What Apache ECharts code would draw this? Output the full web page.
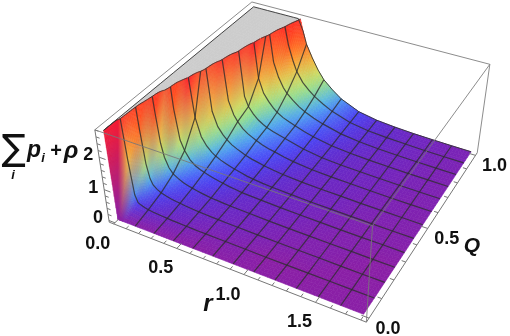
<!DOCTYPE html>
<html><head><meta charset="utf-8">
<style>html,body{margin:0;padding:0;background:#fff}#c{width:510px;height:336px}</style>
<script src="https://cdn.jsdelivr.net/npm/echarts@6/dist/echarts.min.js"></script>
</head><body><div id="c"></div>
<script>
// ---- data ----
const rValues=[0,.01,.03,.05,.07,.09,.12,.15,.19,.23,.27,.3,.34,.38,.42,.45,.5,.55,.6,.675,.75,.9,1.05,1.2,1.35,1.5,1.65,1.8];
const qValues=[0,.0833,.1667,.25,.3333,.4167,.5,.5833,.6667,.75,.8333,.9167,1];
const zQ00=[3,0,0,0,0,0,0,0,0,0,0,0,0,0,0,0,0,0,0,0,0,0,0,0,0,0,0,0];
const zQ01=[3,3,1.5,.45,.22,.18,.14,.11,.09,.075,.065,.055,.045,.04,.035,.03,.025,.02,.02,.015,.015,.01,0,0,0,0,0,0];
const zQ02=[3.5,3.5,2.1,1.05,.6,.42,.32,.25,.2,.165,.14,.125,.105,.09,.08,.07,.06,.052,.047,.038,.031,.022,.015,.01,.01,0,0,0];
const zQ03=[3.5,3.5,3.5,2.3,1.35,.93,.63,.47,.37,.29,.245,.215,.18,.15,.125,.11,.095,.08,.07,.06,.05,.032,.022,.015,.01,.01,0,0];
const zQ04=[3.5,3.5,3.5,3.5,3.5,2.1,1.15,.85,.6,.46,.385,.34,.29,.25,.215,.19,.15,.125,.095,.08,.07,.048,.033,.022,.015,.01,.01,.005];
const zQ05=[3.5,3.5,3.5,3.5,3.5,3.5,2.75,1.55,.98,.73,.57,.49,.41,.35,.3,.265,.22,.17,.14,.105,.085,.058,.04,.03,.02,.015,.01,.01];
const zQ06=[3.5,3.5,3.5,3.5,3.5,3.5,3.5,3.3,1.45,1,.78,.66,.54,.46,.39,.34,.28,.24,.195,.15,.11,.07,.05,.04,.025,.02,.015,.01];
const zQ07=[3.5,3.5,3.5,3.5,3.5,3.5,3.5,3.5,3,1.5,1.08,.9,.72,.6,.52,.46,.38,.32,.28,.21,.155,.09,.06,.045,.03,.02,.015,.015];
const zQ08=[3.5,3.5,3.5,3.5,3.5,3.5,3.5,3.5,3.5,3,1.35,1.05,.85,.7,.6,.54,.47,.41,.36,.28,.2,.11,.07,.05,.035,.025,.02,.015];
const zQ09=[3.5,3.5,3.5,3.5,3.5,3.5,3.5,3.5,3.5,3.5,2.75,1.65,1.2,.98,.8,.7,.58,.5,.43,.33,.25,.14,.085,.055,.04,.027,.02,.015];
const zQ10=[3.5,3.5,3.5,3.5,3.5,3.5,3.5,3.5,3.5,3.5,3.5,3.1,1.9,1.45,1.15,1,.82,.67,.56,.43,.33,.18,.105,.065,.045,.03,.022,.018];
const zQ11=[3.5,3.5,3.5,3.5,3.5,3.5,3.5,3.5,3.5,3.5,3.5,3.5,3,2.2,1.7,1.4,1.1,.9,.74,.56,.41,.21,.12,.08,.055,.035,.025,.02];
const zQ12=[3.5,3.5,3.5,3.5,3.5,3.5,3.5,3.5,3.5,3.5,3.5,3.5,3.5,3.05,2.4,2,1.6,1.25,.98,.72,.5,.24,.13,.08,.05,.035,.025,.02];
const zColumns=[zQ00,zQ01,zQ02,zQ03,zQ04,zQ05,zQ06,zQ07,zQ08,zQ09,zQ10,zQ11,zQ12];
const rMesh=[.15,.3,.45,.6,.75,.9,1.05,1.2,1.35,1.5,1.65];
const qMesh=[.0833,.1667,.25,.3333,.4167,.5,.5833,.6667,.75,.8333,.9167];
const rTickLabels=["0.0","0.5","1.0","1.5"];
const qTickLabels=["0.0","0.5","1.0"];
const zTickLabels=["0","1","2"];
const rMinor=[0,.1,.2,.3,.4,.5,.6,.7,.8,.9,1,1.1,1.2,1.3,1.4,1.5,1.6,1.7,1.8];
const qMinor=[0,.1,.2,.3,.4,.5,.6,.7,.8,.9,1];
const zMinor=[0,.2,.4,.6,.8,1,1.2,1.4,1.6,1.8,2,2.2,2.4,2.6,2.8];
// ---- colour scale: height -> colour ----
const colorHeights=[0,.03,.1,.25,.55,.85,1.2,1.7,2.2,2.75];
const colorRGB=[[138,31,166],[116,36,188],[95,45,208],[74,72,248],[80,176,240],[144,224,144],[216,224,96],[255,160,48],[255,80,32],[255,28,40]];
// ---- view box ----
const plotRange={r:[-.036,1.836],q:[-.02,1.02],z:[-.055,2.805]};
const clipHeight=2.75;
const boxCorners=[[0,0,0,109,222],[1,0,0,367,322],[1,1,0,477,153],[0,0,1,95,130],[1,0,1,372,226],[1,1,1,490,64],[0,1,1,252,2]];

function solveCamera(){
  const A=[],b=[];
  boxCorners.forEach(([u,v,w,x,y])=>{
    A.push([u,v,w,1,0,0,0,0,-x*u,-x*v,-x*w]);b.push(x);
    A.push([0,0,0,0,u,v,w,1,-y*u,-y*v,-y*w]);b.push(y);
  });
  const n=11,M=[];
  for(let i=0;i<n;i++){M.push([]);for(let j=0;j<=n;j++){let s=0;
    for(let k=0;k<A.length;k++)s+=A[k][i]*(j<n?A[k][j]:b[k]);M[i].push(s);}}
  for(let c=0;c<n;c++){let p=c;for(let i=c+1;i<n;i++)if(Math.abs(M[i][c])>Math.abs(M[p][c]))p=i;
    [M[c],M[p]]=[M[p],M[c]];
    for(let i=0;i<n;i++){if(i===c)continue;const f=M[i][c]/M[c][c];for(let j=c;j<=n;j++)M[i][j]-=f*M[c][j];}}
  return M.map((row,i)=>row[n]/row[i]);
}
const cam=solveCamera();
function project(r,q,z){
  const u=(r-plotRange.r[0])/(plotRange.r[1]-plotRange.r[0]),
        v=(q-plotRange.q[0])/(plotRange.q[1]-plotRange.q[0]),
        w=(z-plotRange.z[0])/(plotRange.z[1]-plotRange.z[0]);
  const d=cam[8]*u+cam[9]*v+cam[10]*w+1;
  return [(cam[0]*u+cam[1]*v+cam[2]*w+cam[3])/d,(cam[4]*u+cam[5]*v+cam[6]*w+cam[7])/d];
}
function colorAt(z){
  z=Math.min(z,clipHeight);
  for(let i=1;i<colorHeights.length;i++){
    if(z<=colorHeights[i]){const t=(z-colorHeights[i-1])/(colorHeights[i]-colorHeights[i-1]);
      return colorRGB[i-1].map((c,k)=>c+(colorRGB[i][k]-c)*t);}
  }
  return colorRGB[colorRGB.length-1];
}
function clipPoly(P,below){
  const out=[];
  for(let i=0;i<P.length;i++){
    const a=P[i],b=P[(i+1)%P.length];
    const ia=below?a[2]<=clipHeight:a[2]>=clipHeight, ib=below?b[2]<=clipHeight:b[2]>=clipHeight;
    if(ia)out.push(a);
    if(ia!==ib){const t=(clipHeight-a[2])/(b[2]-a[2]);out.push([a[0]+(b[0]-a[0])*t,a[1]+(b[1]-a[1])*t,clipHeight]);}
  }
  return out;
}
const polys=[],strokes=[];
const meshColor='rgba(45,45,45,.8)';
const lerp=(a,b,t)=>a+(b-a)*t;
for(let i=0;i<rValues.length-1;i++){
  for(let j=qValues.length-2;j>=0;j--){
    const r0=rValues[i],r1=rValues[i+1],q0=qValues[j],q1=qValues[j+1];
    const z00=zColumns[j][i],z10=zColumns[j][i+1],z01=zColumns[j+1][i],z11=zColumns[j+1][i+1];
    const c00=colorAt(z00),c10=colorAt(z10),c01=colorAt(z01),c11=colorAt(z11);
    const cp=[[r0,q0,z00],[r1,q0,z10],[r1,q1,z11],[r0,q1,z01]].map(p=>project(p[0],p[1],Math.min(p[2],clipHeight)));
    const sideR=Math.max(Math.hypot(cp[1][0]-cp[0][0],cp[1][1]-cp[0][1]),Math.hypot(cp[2][0]-cp[3][0],cp[2][1]-cp[3][1]));
    const sideQ=Math.max(Math.hypot(cp[3][0]-cp[0][0],cp[3][1]-cp[0][1]),Math.hypot(cp[2][0]-cp[1][0],cp[2][1]-cp[1][1]));
    const nx=Math.max(1,Math.min(16,Math.ceil(sideR/4))),ny=Math.max(1,Math.min(16,Math.ceil(sideQ/4)));
    for(let s=0;s<nx;s++){
      for(let t=ny-1;t>=0;t--){
        const a0=s/nx,a1=(s+1)/nx,b0=t/ny,b1=(t+1)/ny;
        const Z=(a,b)=>lerp(lerp(z00,z10,a),lerp(z01,z11,a),b);
        const P=[[a0,b0],[a1,b0],[a1,b1],[a0,b1]].map(([a,b])=>[lerp(r0,r1,a),lerp(q0,q1,b),Z(a,b)]);
        const am=(a0+a1)/2,bm=(b0+b1)/2;
        const col=[0,1,2].map(k=>Math.round(lerp(lerp(c00[k],c10[k],am),lerp(c01[k],c11[k],am),bm)));
        const fill=`rgb(${col})`;
        const up=clipPoly(P,false),dn=clipPoly(P,true);
        if(up.length>2)polys.push({pts:up.map(p=>project(p[0],p[1],clipHeight)),fill:'#cccccc'});
        if(dn.length>2)polys.push({pts:dn.map(p=>project(p[0],p[1],p[2])),fill});
        if(up.length>2&&dn.length>2){
          const cross=dn.filter(p=>p[2]===clipHeight);
          if(cross.length>=2)strokes.push({pts:cross.slice(0,2).map(p=>project(p[0],p[1],clipHeight)),color:'#333',width:.9});
        }
      }
    }
  }
}
function interp(xs,x){let i=0;while(i<xs.length-2&&xs[i+1]<x)i++;return [i,(x-xs[i])/(xs[i+1]-xs[i])];}
function pushClipped(seq){
  let cur=[];
  const flush=()=>{if(cur.length>1)strokes.push({pts:cur.map(p=>project(p[0],p[1],p[2])),color:meshColor,width:1.2});cur=[];};
  for(let i=0;i<seq.length;i++){
    const a=seq[i],b=seq[i+1];
    if(a[2]<=clipHeight)cur.push(a);
    if(b&&(a[2]-clipHeight)*(b[2]-clipHeight)<0){
      const t=(clipHeight-a[2])/(b[2]-a[2]);
      const m=[a[0]+(b[0]-a[0])*t,a[1]+(b[1]-a[1])*t,clipHeight];
      cur.push(m);
      if(a[2]<=clipHeight)flush();
    }else if(a[2]>clipHeight)flush();
  }
  flush();
}
rMesh.forEach(r=>{const [i,t]=interp(rValues,r);
  pushClipped(qValues.map((q,j)=>[r,q,lerp(zColumns[j][i],zColumns[j][i+1],t)]));});
qMesh.forEach(q=>{const [j,t]=interp(qValues,q);
  pushClipped(rValues.map((r,i)=>[r,q,lerp(zColumns[j][i],zColumns[j+1][i],t)]));});
function pushOutline(seq){strokes.push({pts:seq.map(p=>project(p[0],p[1],p[2])),color:'#333',width:.9});}
pushOutline(qValues.map((q,j)=>[0,q,Math.min(zColumns[j][0],clipHeight)]));
pushOutline(rValues.map((r,i)=>[r,1,Math.min(zColumns[12][i],clipHeight)]));

const [rA,rB]=plotRange.r,[qA,qB]=plotRange.q,[zA,zB]=plotRange.z;
const boxColor='rgba(120,120,120,.85)',axisColor='#777';
const boxLines=[];
const seg=(a,b,color)=>boxLines.push({pts:[project(...a),project(...b)],color,width:1});
seg([rA,qA,zB],[rA,qB,zB],boxColor);seg([rA,qB,zB],[rB,qB,zB],boxColor);
seg([rB,qB,zB],[rB,qA,zB],boxColor);seg([rB,qA,zB],[rA,qA,zB],boxColor);
seg([rB,qA,zA],[rB,qA,zB],boxColor);seg([rB,qB,zA],[rB,qB,zB],boxColor);
seg([rA,qA,zA],[rB,qA,zA],axisColor);seg([rB,qA,zA],[rB,qB,zA],axisColor);seg([rA,qA,zA],[rA,qA,zB],axisColor);
const isMajor=v=>Math.abs(v*2-Math.round(v*2))<1e-6;
rMinor.forEach(r=>seg([r,qA,zA],[r,qA+(isMajor(r)?.03:.016),zA],axisColor));
qMinor.forEach(q=>seg([rB,q,zA],[rB-(isMajor(q)?.05:.028),q,zA],axisColor));
zMinor.forEach(z=>seg([rA,qA,z],[rA+(Number.isInteger(z)?.05:.028),qA,z],axisColor));

const labelFont='bold 18px "Liberation Sans"';
const labels=[];
rTickLabels.forEach(s=>{const p=project(+s,qA,zA);labels.push({text:s,x:p[0]-16,y:p[1]+20});});
qTickLabels.forEach(s=>{const p=project(rB,+s,zA);labels.push({text:s,x:p[0]+19,y:p[1]+11});});
zTickLabels.forEach(s=>{const p=project(rA,qA,+s);labels.push({text:s,x:p[0]-11,y:p[1]-2});});

const polyItem=(params,api)=>{const p=polys[params.dataIndex];
  return {type:'polygon',shape:{points:p.pts.map(q=>api.coord(q))},style:{fill:p.fill,stroke:p.fill,lineWidth:.6}};};
const lineItem=list=>(params,api)=>{const p=list[params.dataIndex];
  return {type:'polyline',shape:{points:p.pts.map(q=>api.coord(q))},style:{fill:null,stroke:p.color,lineWidth:p.width}};};
const labelItem=(params,api)=>{const l=labels[params.dataIndex],c=api.coord([l.x,l.y]);
  return {type:'text',style:{text:l.text,x:c[0],y:c[1],font:labelFont,fill:'#111',textAlign:'center',textVerticalAlign:'middle'}};};
const first=list=>list.map(p=>p.pts?p.pts[0]:[p.x,p.y]);
const custom=(renderItem,list,z)=>({type:'custom',coordinateSystem:'cartesian2d',renderItem,data:first(list),encode:{x:0,y:1},clip:false,silent:true,animation:false,progressive:0,z});
const txt=(text,x,y,font)=>({type:'text',x,y,silent:true,z:50,style:{text,font,fill:'#111',textAlign:'center',textVerticalAlign:'middle'}});
const chart=echarts.init(document.getElementById('c'),null,{renderer:'canvas'});
chart.setOption({
  animation:false,backgroundColor:'#fff',
  grid:{left:0,right:0,top:0,bottom:0},
  xAxis:{type:'value',min:0,max:510,show:false},
  yAxis:{type:'value',min:0,max:336,inverse:true,show:false},
  series:[custom(polyItem,polys,1),custom(lineItem(strokes),strokes,2),custom(lineItem(boxLines),boxLines,3),custom(labelItem,labels,4)],
  graphic:{elements:[
    txt('∑',14,151,'36px "DejaVu Sans"'),
    txt('i',13,175,'italic bold 13px "Liberation Sans"'),
    txt('p',34,151,'italic bold 23px "Liberation Sans"'),
    txt('i',43,158,'italic bold 13px "Liberation Sans"'),
    txt('+',56,151,'bold 20px "Liberation Sans"'),
    txt('ρ',71,151,'italic bold 24px "Liberation Sans"'),
    txt('r',208,304,'italic bold 24px "Liberation Sans"'),
    txt('Q',472,246,'italic bold 21px "Liberation Sans"')
  ]}
});
</script></body></html>
